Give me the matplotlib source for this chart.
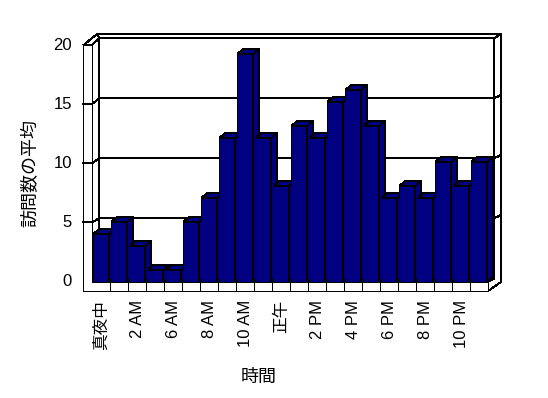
import matplotlib
matplotlib.use("Agg")
import matplotlib.pyplot as plt
from matplotlib.patches import Polygon

# 時間帯ごとの訪問数の平均 (4 AM / 5 AM はデータなし)
categories = ["真夜中", "1 AM", "2 AM", "3 AM", "6 AM", "7 AM", "8 AM", "9 AM",
              "10 AM", "11 AM", "正午", "1 PM", "2 PM", "3 PM", "4 PM", "5 PM",
              "6 PM", "7 PM", "8 PM", "9 PM", "10 PM", "11 PM"]
visits = [4, 5, 3, 1, 1, 5, 7, 12, 19, 12, 8, 13, 12, 15, 16, 13, 7, 8, 7, 10, 8, 10]
y_ticks = [0, 5, 10, 15, 20]

NAVY = "#000080"
FONT = ["Liberation Sans", "Noto Sans CJK JP", "DejaVu Sans"]
CJK = ["Noto Sans CJK JP", "DejaVu Sans"]
LW = 0.7

# pixel layout: bar centre column = X0 + DX*i, bar row = Y0 - DY*value
X0, DX = 101.0, 18.0
Y0, DY = 282.0, 12.0
W_PX, H_PX = 548, 398

fig = plt.figure(figsize=(W_PX / 100, H_PX / 100), dpi=100)
ax = fig.add_axes([0, 0, 1, 1])
ax.set_xlim(-X0 / DX, (W_PX - X0) / DX)
ax.set_ylim((Y0 - H_PX) / DY, Y0 / DY)
ax.axis("off")


def P(px, row):
    # pixel -> data coords of the axes
    return ((px - X0) / DX, (Y0 - row) / DY)


def front_row(v):
    return 281.3 - 11.8 * v


def back_row(v):
    return 278.3 - 12.0 * v


def line(pts, z=1):
    xs, ys = zip(*[P(*p) for p in pts])
    ax.plot(xs, ys, color="black", lw=LW, zorder=z, antialiased=False)


def poly(pts, fc="white", z=1):
    ax.add_patch(Polygon([P(*p) for p in pts], closed=True, facecolor=fc,
                         edgecolor="black", lw=LW, zorder=z, antialiased=False))


# walls / floor
LW_OUT, LW_IN, BACK_L = 83.3, 91.7, 99.3
BACK_R, OUT_R, FLOOR_R = 494.3, 501.0, 488.0
TOP_OUT, TOP_IN = 34.0, back_row(20)
FLOOR_TOP, FLOOR_BOT = 282.0, 291.0

# back wall (with thickness seen on top and right)
poly([(BACK_L, TOP_IN), (BACK_R, TOP_IN), (BACK_R, back_row(0)),
      (BACK_L, back_row(0))], z=1)
poly([(97.0, TOP_OUT), (OUT_R, TOP_OUT), (BACK_R, TOP_IN), (BACK_L, TOP_IN)], z=1)
poly([(BACK_R, TOP_IN), (OUT_R, TOP_OUT), (OUT_R, FLOOR_TOP),
      (FLOOR_R, FLOOR_BOT), (FLOOR_R, FLOOR_TOP), (BACK_R, back_row(0))], z=1)
# left wall inner surface and top
poly([(LW_IN, front_row(20)), (BACK_L, TOP_IN), (BACK_L, back_row(0)),
      (LW_IN, FLOOR_TOP)], z=1)
poly([(LW_OUT, front_row(20)), (97.0, TOP_OUT), (BACK_L, TOP_IN),
      (LW_IN, front_row(20))], z=1)
# left wall front face + floor front face
poly([(LW_OUT, front_row(20)), (LW_IN, front_row(20)), (LW_IN, FLOOR_TOP),
      (FLOOR_R, FLOOR_TOP), (FLOOR_R, FLOOR_BOT), (LW_OUT, FLOOR_BOT)], z=2)

# gridlines on back wall and left wall
for v in y_ticks[1:-1]:
    line([(LW_OUT, front_row(v)), (LW_IN, front_row(v)), (BACK_L, back_row(v)),
          (BACK_R, back_row(v)), (OUT_R, back_row(v) - 3.3)], z=3)

# category tick marks on floor front face
for i in range(len(categories) - 1):
    xb = X0 + DX * (i + 0.5)
    line([(xb, FLOOR_TOP), (xb, FLOOR_BOT)], z=3)

# 3D bars
bw = 0.85
ddx, ddy = 6.0 / DX, 5.0 / DY
for i, v in enumerate(visits):
    z = 10 + i
    ax.bar(i, v, width=bw, color=NAVY, edgecolor="black", lw=LW, zorder=z,
           antialiased=False)
    l, r = i - bw / 2, i + bw / 2
    ax.add_patch(Polygon([(l, v), (r, v), (r + ddx, v + ddy), (l + ddx, v + ddy)],
                         facecolor=NAVY, edgecolor="black", lw=LW, zorder=z,
                         antialiased=False))
    ax.add_patch(Polygon([(r, 0), (r + ddx, ddy), (r + ddx, v + ddy), (r, v)],
                         facecolor=NAVY, edgecolor="black", lw=LW, zorder=z,
                         antialiased=False))

# y tick labels
for v in y_ticks:
    ax.text(*P(72, front_row(v)), str(v), ha="right", va="center",
            fontsize=12, family=FONT)

# x tick labels (every second category)
for i in range(0, len(categories), 2):
    ax.text(i, P(0, 300)[1], categories[i], rotation=90, ha="center", va="top",
            fontsize=12, family=FONT)

ax.text(*P(30, 173), "訪問数の平均", rotation=90, ha="center", va="center",
        fontsize=13, family=CJK)
ax.text(*P(259, 377), "時間", ha="center", va="center", fontsize=13, family=CJK)

fig.savefig("out.png", dpi=100, facecolor="white")
